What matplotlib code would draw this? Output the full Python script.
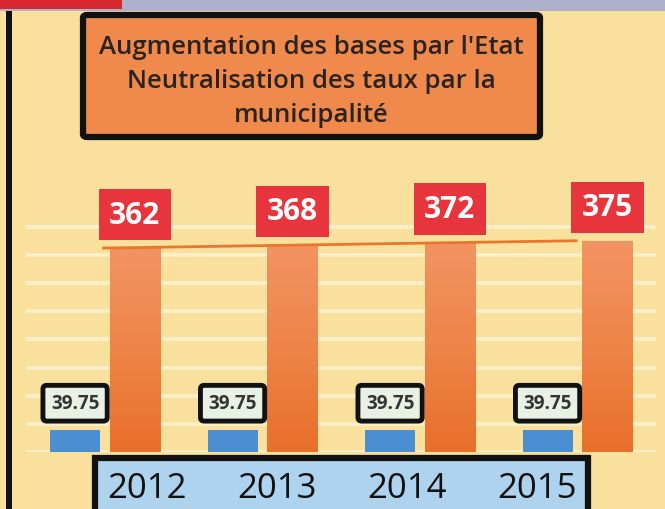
import matplotlib.pyplot as plt
import matplotlib.patches as mpatches
import numpy as np

years = ["2012", "2013", "2014", "2015"]
taux = [39.75, 39.75, 39.75, 39.75]
bases = [362, 368, 372, 375]
title_lines = ["Augmentation des bases par l'Etat",
               "Neutralisation des taux par la",
               "municipalité"]

W, H = 665, 510
bg = "#f9e09c"
fig = plt.figure(figsize=(W / 100, H / 100), dpi=100)
fig.patch.set_facecolor(bg)

def fx(px):
    return px / W

def fy(py):
    # pixel from top -> figure fraction
    return 1 - py / H

# decorations of the scanned page
fig.add_artist(mpatches.Rectangle((0, fy(12)), 1, fy(0) - fy(12), transform=fig.transFigure,
                                  facecolor="#aeb1cb", edgecolor="none"))
fig.add_artist(mpatches.Rectangle((0, fy(10)), fx(122), fy(0) - fy(10), transform=fig.transFigure,
                                  facecolor="#d8282f", edgecolor="none"))
fig.add_artist(mpatches.Rectangle((fx(6), 0), fx(6), fy(12), transform=fig.transFigure,
                                  facecolor="#111111", edgecolor="none"))

# plot area: x pixel = 105 + 157.5 * i, baseline at 453 px from top
ax = fig.add_axes([26.25 / W, 57 / H, 630 / W, 253.5 / H])
ax.set_facecolor("none")
ax.set_xlim(-0.5, 3.5)
ax.set_ylim(0, 450)
for s in ax.spines.values():
    s.set_visible(False)
ax.set_xticks([])
ax.set_yticks([])
for g in range(0, 401, 50):
    ax.axhline(g, color="#fcefcb", lw=2.6, zorder=0)

x = np.arange(len(years))
off, bw = 0.19, 0.318
blue = ax.bar(x - off, taux, bw, color="#4a8fd2", zorder=2)
orange = ax.bar(x + off, bases, bw, color="#ee7d3a", zorder=2)

# vertical gradient on orange bars
grad = np.linspace(0, 1, 256).reshape(-1, 1)
cmap = plt.matplotlib.colors.LinearSegmentedColormap.from_list("o", ["#e8702a", "#ee8448", "#f29462"])
for b in orange:
    im = ax.imshow(grad, cmap=cmap, aspect="auto", origin="lower", zorder=3,
                   extent=[b.get_x(), b.get_x() + b.get_width(), 0, b.get_height()])
    im.set_clip_path(b)

# trend line over the orange bars
ax.plot([x[0] + off - bw / 2 - 0.04, x[-1] + off - bw / 2 - 0.04], [bases[0], bases[-1]],
        color="#e8762c", lw=2, zorder=4)

for xi, v in zip(x, bases):
    ax.annotate(str(v), (xi + off, v), xytext=(0, 24), textcoords="offset points",
                ha="center", va="center", color="white", fontsize=21.5,
                fontweight="bold", family="Open Sans", zorder=6,
                bbox=dict(boxstyle="square,pad=0.36", fc="#e8343c", ec="none"))

for xi, v in zip(x, taux):
    ax.annotate(f"{v:.2f}", (xi - off, v), xytext=(0, 19), textcoords="offset points",
                ha="center", va="center", color="#333333", fontsize=13.5,
                fontweight="bold", family="Open Sans", zorder=6,
                bbox=dict(boxstyle="round,pad=0.42,rounding_size=0.2", fc="#e9f1e4",
                          ec="#111111", lw=3.5))

# title box
fig.add_artist(mpatches.FancyBboxPatch((fx(83), fy(138)), fx(540) - fx(83), fy(16) - fy(138),
                                       boxstyle="round,pad=0,rounding_size=0.006",
                                       transform=fig.transFigure, facecolor="#ef8a4c",
                                       edgecolor="#111111", lw=4.5))
for i, line in enumerate(title_lines):
    fig.text(fx(311), fy(47 + 34.5 * i), line, ha="center", va="center", fontsize=18.5,
             fontweight="semibold", family="Open Sans", color="#2b2320")

# year box at the bottom
fig.add_artist(mpatches.Rectangle((fx(95), fy(530)), fx(588) - fx(95), fy(459) - fy(530),
                                  transform=fig.transFigure, facecolor="#aed3ee",
                                  edgecolor="#111111", lw=4.5))
for i, yr in enumerate(years):
    fig.text(fx(147 + 130 * i), fy(489), yr, ha="center", va="center", fontsize=25,
             family="Open Sans", color="#111111")

fig.savefig("out.png", dpi=100, facecolor=bg)
